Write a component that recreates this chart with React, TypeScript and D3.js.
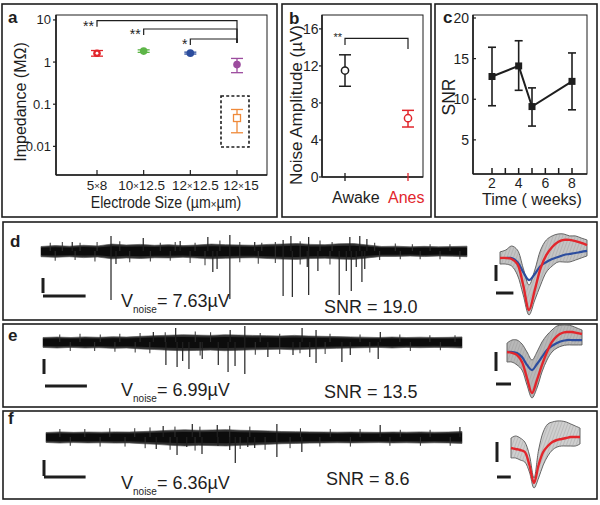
import React from "react";
import * as d3 from "d3";

const FONT = "'Liberation Sans', Arial, Helvetica, sans-serif";

// ---------- Panel a: impedance ----------
const sizeCategories = ["5×8", "10×12.5", "12×12.5", "12×15"];
const impedanceMean = [1.62, 1.82, 1.63, 0.87];
const impedanceLow = [1.38, 1.7, 1.55, 0.56];
const impedanceHigh = [1.88, 1.95, 1.72, 1.22];
const coatedMean = 0.047;
const coatedLow = 0.021;
const coatedHigh = 0.075;
const impedanceTicks = [10, 1, 0.1, 0.01];
const impedanceTickLabels = ["10", "1", "0.1", "0.01"];
const sigFrom = [0, 1, 2];
const sigTo = [3, 3, 3];
const sigLabels = ["**", "**", "*"];

// ---------- Panel b: noise ----------
const states = ["Awake", "Anes"];
const noiseMean = [11.5, 6.35];
const noiseLow = [9.8, 5.4];
const noiseHigh = [13.2, 7.2];
const noiseTicks = [0, 4, 8, 12, 16];

// ---------- Panel c: SNR over time ----------
const weeks = [2, 4, 5, 8];
const snrMean = [12.8, 14.1, 9.1, 12.2];
const snrLow = [9.2, 11.1, 6.7, 8.7];
const snrHigh = [16.4, 17.2, 11.4, 15.7];
const snrTicks = [5, 10, 15, 20];
const weekTicks = [2, 4, 6, 8];
const weekMinorTicks = [2, 3, 4, 5, 6, 7, 8];

// ---------- Panels d,e,f: raw traces (time s, amplitude µV) ----------
const envTimes = [0, 2, 4, 6, 8, 10, 12, 14, 16, 18, 20, 22, 24, 26, 28, 30, 32, 34, 36, 38, 40, 42, 44, 46, 48, 50, 52, 54, 56, 58, 60];

const dUpper = [30, 36, 32, 38, 34, 46, 40, 44, 38, 42, 36, 40, 46, 42, 40, 38, 44, 46, 50, 44, 42, 48, 50, 40, 30, 32, 28, 31, 28, 30, 32];
const dLower = [-38, -42, -38, -44, -40, -52, -46, -50, -45, -46, -42, -47, -52, -48, -46, -45, -50, -54, -56, -50, -48, -54, -56, -46, -36, -36, -34, -37, -34, -35, -38];
const dSpikeT = [9.86, 10.56, 24.2, 24.8, 26.6, 34.1, 35.4, 37.5, 37.7, 39.0, 42.0, 43.0, 43.7, 44.4, 45.2, 45.6, 9.86, 14.4, 23.5, 26.6, 34.1, 35.2, 37.7, 43.5, 44.9, 45.9, 4.4, 19.6, 30.1];
const dSpikeA = [-327, -87, -140, -120, -320, -300, -307, -107, -293, -133, -293, -133, -267, -107, -207, -120, 100, 87, 93, 107, 73, 100, 93, 93, 100, 80, 60, 67, 60];
const dHairT = [1.3, 3.0, 5.5, 7.9, 11.1, 16.8, 18.9, 21.7, 25.2, 28.0, 31.1, 33.0, 36.5, 39.3, 41.0, 47.0, 49.9, 52.3, 54.8, 57.6, 2.0, 4.8, 7.6, 12.5, 15.4, 18.2, 21.0, 23.1, 28.0, 30.6, 33.0, 36.5, 40.7, 47.7, 50.6, 53.4, 56.2, 59.0];
const dHairA = [55, 60, 55, 60, 65, 55, 60, 55, 70, 60, 55, 60, 65, 70, 60, 55, 50, 45, 45, 45, -65, -60, -70, -75, -70, -65, -80, -95, -75, -85, -80, -90, -90, -60, -55, -55, -55, -55];

const eUpper = [30, 33, 30, 34, 31, 35, 33, 38, 42, 45, 48, 46, 44, 48, 46, 44, 42, 40, 44, 40, 38, 36, 34, 32, 30, 33, 30, 32, 30, 31, 34];
const eLower = [-36, -40, -36, -40, -38, -42, -40, -46, -50, -55, -58, -56, -54, -58, -55, -52, -50, -48, -52, -48, -45, -42, -40, -38, -36, -40, -36, -38, -36, -37, -40];
const eSpikeT = [17.6, 19.2, 20.0, 20.9, 22.8, 25.1, 26.5, 27.5, 28.9, 32.2, 35.8, 38.2, 39.1, 42.8, 44.0, 48.0, 15.8, 19.0, 26.8, 28.9, 37.1, 39.1, 48.3];
const eSpikeA = [-153, -167, -127, -180, -113, -153, -200, -160, -213, -100, -87, -100, -140, -133, -87, -113, 67, 93, 80, 107, 93, 80, 67];
const eHairT = [2.4, 5.3, 8.2, 11.0, 13.9, 17.5, 21.8, 24.0, 31.1, 33.9, 41.1, 45.4, 51.1, 55.4, 59.0, 3.9, 7.4, 10.3, 13.2, 15.3, 22.5, 30.4, 33.9, 36.8, 40.4, 46.8, 52.6, 56.9];
const eHairA = [50, 55, 50, 55, 60, 65, 70, 65, 60, 55, 55, 50, 50, 45, 45, -60, -60, -65, -70, -75, -90, -85, -80, -75, -80, -70, -60, -55];

const fUpper = [28, 32, 29, 31, 30, 32, 31, 34, 38, 42, 45, 42, 44, 46, 42, 40, 38, 34, 33, 32, 31, 30, 31, 30, 29, 31, 30, 32, 30, 31, 34];
const fLower = [-34, -38, -35, -37, -36, -38, -37, -42, -46, -52, -56, -52, -54, -56, -52, -50, -46, -42, -40, -38, -37, -36, -37, -36, -35, -37, -36, -38, -36, -37, -40];
const fSpikeT = [15.9, 18.9, 20.3, 22.5, 24.8, 26.5, 27.3, 29.1, 30.1, 33.3, 36.9, 16.9, 21.1, 24.7, 33.3, 48.2, 59.7];
const fSpikeA = [-75, -113, -63, -106, -56, -81, -163, -63, -69, -125, -94, 69, 81, 75, 81, 75, 62];
const fHairT = [2.0, 5.6, 9.2, 12.8, 15.0, 18.6, 22.2, 26.5, 29.4, 36.7, 41.0, 45.3, 51.1, 55.4, 3.5, 7.8, 11.4, 14.3, 17.9, 21.5, 28.0, 31.6, 35.2, 39.5, 43.9, 49.6, 54.0, 58.3];
const fHairA = [50, 50, 55, 55, 60, 65, 65, 70, 65, 55, 50, 50, 45, 45, -55, -60, -60, -70, -80, -85, -75, -80, -70, -60, -60, -55, -55, -55];

const noiseLabels = ["7.63µV", "6.99µV", "6.36µV"];
const snrLabels = ["19.0", "13.5", "8.6"];

// ---------- Spike waveforms (ms, µV) ----------
const waveMs = [0, 0.1, 0.2, 0.3, 0.4, 0.5, 0.6, 0.7, 0.8, 0.9, 1.0, 1.1, 1.2, 1.3, 1.4, 1.5];
const dRed = [0, 0, -6, -38, -169, -325, -200, -63, 19, 69, 100, 113, 113, 106, 94, 81];
const dBlue = [0, 0, 0, -25, -88, -138, -100, -50, -25, -6, 6, 19, 25, 31, 38, 44];
const dGrayHi = [38, 50, 75, 50, -63, -169, -75, 50, 113, 138, 150, 150, 138, 138, 125, 113];
const dGrayLo = [-38, -38, -50, -106, -231, -356, -263, -169, -88, -50, -25, -25, -25, -13, 0, 13];
const eRed = [0, -5, -16, -53, -137, -216, -147, -68, 0, 53, 84, 100, 105, 105, 100, 95];
const eBlue = [0, 0, -5, -26, -68, -95, -63, -26, 11, 32, 47, 58, 63, 63, 63, 63];
const eGrayHi = [47, 63, 63, 42, 0, -42, 0, 53, 89, 116, 137, 142, 142, 137, 126, 116];
const eGrayLo = [-53, -53, -68, -95, -174, -242, -189, -105, -42, 0, 21, 32, 37, 37, 37, 37];
const fRed = [10, 5, 0, -10, -75, -165, -75, -10, 20, 40, 50, 55, 60, 65, 65, 65];
const fGrayHi = [60, 70, 60, 40, -25, -140, 0, 90, 130, 140, 145, 145, 140, 130, 120, 110];
const fGrayLo = [-40, -40, -50, -60, -110, -190, -140, -75, -30, 0, 15, 20, 20, 20, 20, 30];

const C_RED = "#e2262c";
const C_GREEN = "#5db547";
const C_BLUE = "#2c4d9e";
const C_PURPLE = "#9c4c9e";
const C_ORANGE = "#ef8a3a";
const impColors = [C_RED, C_GREEN, C_BLUE, C_PURPLE];
const INK = "#1e1e1e";

function Box({ x, y, w, h }: any) {
  return <rect x={x} y={y} width={w} height={h} fill="none" stroke={INK} strokeWidth={1.6} />;
}

const sizeLabelShift = [0, -2, 5, 4];

function SizeLabel({ label, x, y }: any) {
  const parts = label.split("×");
  return (
    <text x={x} y={y} textAnchor="middle" fontSize={13.5} fill={INK}>
      {parts[0]}
      <tspan fontSize={9.5} dy={-1}>×</tspan>
      <tspan dy={1}>{parts[1]}</tspan>
    </text>
  );
}

function PanelA() {
  const x = d3.scalePoint<string>().domain(sizeCategories).range([97, 237]);
  const y = d3.scaleLog().domain([0.00209, 13.09]).range([175, 15]);
  const bracketY = [20.7, 29, 39];
  const rightY = 43;
  const xc = x(sizeCategories[3])!;
  return (
    <g>
      <Box x={2} y={4} w={275} h={213} />
      <text x={8} y={23} fontSize={17} fontWeight="bold" fill={INK}>a</text>
      <rect x={56} y={15} width={211} height={160} fill="none" stroke={INK} strokeWidth={1} />
      <line x1={56} x2={56} y1={15} y2={175} stroke={INK} strokeWidth={1.6} />
      <line x1={56} x2={267} y1={175} y2={175} stroke={INK} strokeWidth={1.6} />
      {impedanceTicks.map((t, i) => (
        <g key={i}>
          <line x1={53} x2={56} y1={y(t)} y2={y(t)} stroke={INK} strokeWidth={1.2} />
          <text x={51} y={y(t) + 4.5} textAnchor="end" fontSize={13} fill={INK}>{impedanceTickLabels[i]}</text>
        </g>
      ))}
      {sizeCategories.map((c, i) => (
        <g key={c}>
          <line x1={x(c)} x2={x(c)} y1={175} y2={170} stroke={INK} strokeWidth={1.2} />
          <SizeLabel label={c} x={x(c)! + sizeLabelShift[i]} y={190} />
        </g>
      ))}
      <g transform="translate(166,208) scale(0.86,1)">
        <text x={0} y={0} textAnchor="middle" fontSize={16.5} fill={INK}>
          Electrode Size (µm<tspan fontSize={11.5}>×</tspan>µm)
        </text>
      </g>
      <text transform="translate(25.5,102) rotate(-90)" textAnchor="middle" fontSize={16} fill={INK}>
        Impedance (MΩ)
      </text>
      {sigFrom.map((f, i) => {
        const xl = x(sizeCategories[f])!;
        const xr = x(sizeCategories[sigTo[i]])!;
        const by = bracketY[i];
        return (
          <g key={i}>
            <path d={`M${xl},${by + 6}V${by}H${xr}V${rightY}`} fill="none" stroke={INK} strokeWidth={1.2} />
            <text x={xl - 3} y={by + 10} textAnchor="end" fontSize={14} fill={INK}>{sigLabels[i]}</text>
          </g>
        );
      })}
      {sizeCategories.map((c, i) => {
        const cx = x(c)!;
        const col = impColors[i];
        return (
          <g key={c}>
            <line x1={cx} x2={cx} y1={y(impedanceLow[i])} y2={y(impedanceHigh[i])} stroke={col} strokeWidth={1.3} />
            <line x1={cx - 6} x2={cx + 6} y1={y(impedanceLow[i])} y2={y(impedanceLow[i])} stroke={col} strokeWidth={1.3} />
            <line x1={cx - 6} x2={cx + 6} y1={y(impedanceHigh[i])} y2={y(impedanceHigh[i])} stroke={col} strokeWidth={1.3} />
            <circle cx={cx} cy={y(impedanceMean[i])} r={3.8} fill={col} />
            {i === 0 && <circle cx={cx} cy={y(impedanceMean[i])} r={1.4} fill="#fff" />}
          </g>
        );
      })}
      <g>
        <line x1={xc} x2={xc} y1={y(coatedLow)} y2={y(coatedHigh)} stroke={C_ORANGE} strokeWidth={1.3} />
        <line x1={xc - 6} x2={xc + 6} y1={y(coatedLow)} y2={y(coatedLow)} stroke={C_ORANGE} strokeWidth={1.3} />
        <line x1={xc - 6} x2={xc + 6} y1={y(coatedHigh)} y2={y(coatedHigh)} stroke={C_ORANGE} strokeWidth={1.3} />
        <rect x={xc - 3.5} y={y(coatedMean) - 3.5} width={7} height={7} fill="#fff" stroke={C_ORANGE} strokeWidth={1.3} />
        <rect x={221} y={96} width={28} height={51} fill="none" stroke={INK} strokeWidth={1.6} strokeDasharray="3,2.2" />
      </g>
    </g>
  );
}

function PanelB() {
  const x = d3.scalePoint<string>().domain(states).range([345, 408]);
  const y = d3.scaleLinear().domain([0, 17.5]).range([177, 15]);
  const cols = [INK, C_RED];
  const xa = x("Awake")!;
  const xn = x("Anes")!;
  return (
    <g>
      <Box x={282} y={4} w={149} h={213} />
      <text x={289} y={24} fontSize={17} fontWeight="bold" fill={INK}>b</text>
      <rect x={322} y={15} width={101} height={162} fill="none" stroke={INK} strokeWidth={1} />
      <line x1={322} x2={322} y1={15} y2={177} stroke={INK} strokeWidth={1.6} />
      <line x1={322} x2={423} y1={177} y2={177} stroke={INK} strokeWidth={1.6} />
      {noiseTicks.map((t) => (
        <g key={t}>
          <line x1={319} x2={322} y1={y(t)} y2={y(t)} stroke={INK} strokeWidth={1.2} />
          <text x={318.5} y={y(t) + 5} textAnchor="end" fontSize={14} fill={INK}>{t}</text>
        </g>
      ))}
      {states.map((s, i) => (
        <line key={s} x1={x(s)} x2={x(s)} y1={173} y2={181} stroke={cols[i]} strokeWidth={1.3} />
      ))}
      <text x={332} y={203} fontSize={16} fill={INK}>Awake</text>
      <text x={388} y={203} fontSize={16} fill={C_RED}>Anes</text>
      <text transform="translate(302,105) rotate(-90)" textAnchor="middle" fontSize={17} fill={INK}>
        Noise Amplitude (µV)
      </text>
      <path d={`M${xa},45V38.3H${xn}V49`} fill="none" stroke={INK} strokeWidth={1.2} />
      <text x={342} y={41} textAnchor="end" fontSize={11} fill={INK}>**</text>
      {states.map((s, i) => {
        const cx = x(s)!;
        const col = cols[i];
        return (
          <g key={s}>
            <line x1={cx} x2={cx} y1={y(noiseLow[i])} y2={y(noiseHigh[i])} stroke={col} strokeWidth={1.5} />
            <line x1={cx - 6} x2={cx + 6} y1={y(noiseLow[i])} y2={y(noiseLow[i])} stroke={col} strokeWidth={1.5} />
            <line x1={cx - 6} x2={cx + 6} y1={y(noiseHigh[i])} y2={y(noiseHigh[i])} stroke={col} strokeWidth={1.5} />
            <circle cx={cx} cy={y(noiseMean[i])} r={3.6} fill="#fff" stroke={col} strokeWidth={1.5} />
          </g>
        );
      })}
    </g>
  );
}

function PanelC() {
  const x = d3.scaleLinear().domain([0.575, 9.125]).range([473, 587]);
  const y = d3.scaleLinear().domain([0.8, 20.37]).range([174, 15]);
  const line = d3.line<number>().x((_, i) => x(weeks[i])).y((v) => y(v));
  return (
    <g>
      <Box x={435} y={4} w={162} h={213} />
      <text x={443} y={23} fontSize={17} fontWeight="bold" fill={INK}>c</text>
      <rect x={473} y={15} width={114} height={159} fill="none" stroke={INK} strokeWidth={1} />
      <line x1={473} x2={473} y1={15} y2={174} stroke={INK} strokeWidth={1.6} />
      <line x1={473} x2={587} y1={174} y2={174} stroke={INK} strokeWidth={1.6} />
      {snrTicks.map((t) => (
        <g key={t}>
          <line x1={473} x2={476} y1={y(t)} y2={y(t)} stroke={INK} strokeWidth={1.2} />
          <text x={469} y={y(t) + 5} textAnchor="end" fontSize={14} fill={INK}>{t}</text>
        </g>
      ))}
      {weekMinorTicks.map((t) => (
        <line key={t} x1={x(t)} x2={x(t)} y1={174} y2={168} stroke={INK} strokeWidth={1.5} />
      ))}
      {weekTicks.map((t) => (
        <text key={t} x={x(t)} y={188} textAnchor="middle" fontSize={14} fill={INK}>{t}</text>
      ))}
      <text x={532} y={205} textAnchor="middle" fontSize={16} fill={INK}>Time ( weeks)</text>
      <text transform="translate(454.5,97) rotate(-90)" textAnchor="middle" fontSize={17.5} fill={INK}>SNR</text>
      {weeks.map((w, i) => (
        <g key={w}>
          <line x1={x(w)} x2={x(w)} y1={y(snrLow[i])} y2={y(snrHigh[i])} stroke={INK} strokeWidth={1.6} />
          <line x1={x(w) - 4} x2={x(w) + 4} y1={y(snrLow[i])} y2={y(snrLow[i])} stroke={INK} strokeWidth={1.6} />
          <line x1={x(w) - 4} x2={x(w) + 4} y1={y(snrHigh[i])} y2={y(snrHigh[i])} stroke={INK} strokeWidth={1.6} />
        </g>
      ))}
      <path d={line(snrMean)!} fill="none" stroke={INK} strokeWidth={2} />
      {weeks.map((w, i) => (
        <rect key={w} x={x(w) - 3.5} y={y(snrMean[i]) - 3.5} width={7} height={7} fill={INK} />
      ))}
    </g>
  );
}

function Trace({ L, upper, lower, spikeT, spikeA, hairT, hairA }: any) {
  const x = d3.scaleLinear().domain([0, 60]).range([L.x0, L.x1]);
  const y = d3.scaleLinear().domain([0, 100]).range([L.y0, L.y0 - 100 * L.k]);
  const area = d3
    .area<number>()
    .x((_, i) => x(envTimes[i]))
    .y0((_, i) => y(lower[i]))
    .y1((v) => y(v));
  const core = d3
    .area<number>()
    .x((_, i) => x(envTimes[i]))
    .y0((_, i) => y(lower[i] * 0.7))
    .y1((v) => y(v * 0.7));
  return (
    <g>
      <path d={area(upper)!} fill="#2e2e2e" stroke="#555" strokeWidth={0.7} />
      <path d={core(upper)!} fill="#0c0c0c" />
      {hairT.map((t: number, i: number) => (
        <line key={"h" + i} x1={x(t)} x2={x(t)} y1={y(0)} y2={y(hairA[i])} stroke="#333" strokeWidth={1} />
      ))}
      {spikeT.map((t: number, i: number) => (
        <line key={i} x1={x(t)} x2={x(t)} y1={y(0)} y2={y(spikeA[i])} stroke="#222" strokeWidth={1.2} />
      ))}
      <line x1={L.vbx} x2={L.vbx} y1={L.vby} y2={L.vby + 100 * L.k} stroke={INK} strokeWidth={3} />
      <line x1={L.hbx} x2={L.hbx + x(6) - x(0)} y1={L.hby} y2={L.hby} stroke={INK} strokeWidth={3} />
    </g>
  );
}

function Wave({ W, red, blue, hi, lo }: any) {
  const x = d3.scaleLinear().domain([0, 1.5]).range([W.x0, W.x1]);
  const y = d3.scaleLinear().domain([0, 100]).range([W.y0, W.y0 - 100 * W.k]);
  const line = d3.line<number>().x((_, i) => x(waveMs[i])).y((v) => y(v)).curve(d3.curveCatmullRom);
  const area = d3
    .area<number>()
    .x((_, i) => x(waveMs[i]))
    .y0((_, i) => y(lo[i]))
    .y1((v) => y(v))
    .curve(d3.curveCatmullRom);
  return (
    <g>
      <path d={area(hi)!} fill={W.gray} stroke="#555" strokeWidth={0.9} />
      <path d={area(hi)!} fill="url(#waveHatch)" />
      {blue && <path d={line(blue)!} fill="none" stroke={C_BLUE} strokeWidth={2.2} />}
      <path d={line(red)!} fill="none" stroke={C_RED} strokeWidth={2.4} />
      <line x1={W.sbx} x2={W.sbx} y1={W.sby} y2={W.sby + 100 * W.k} stroke={INK} strokeWidth={3} />
      <line x1={W.sbx} x2={W.sbx + x(0.3) - x(0)} y1={W.shy} y2={W.shy} stroke={INK} strokeWidth={3} />
    </g>
  );
}

function VNoise({ x, y, value }: any) {
  return (
    <text x={x} y={y} fontSize={18} fill={INK}>
      V<tspan fontSize={10} dy={6}>noise</tspan>
      <tspan dy={-6}>= {value}</tspan>
    </text>
  );
}

const traceLayouts = [
  { box: [3, 222, 594, 98], letter: [10, 247], x0: 41, x1: 467, y0: 251, k: 0.15, vbx: 43, vby: 278, hbx: 43, hby: 296, vn: [121, 307], snr: [324, 313] },
  { box: [3, 324, 594, 83], letter: [8, 341], x0: 43, x1: 462, y0: 342, k: 0.15, vbx: 44, vby: 359, hbx: 45, hby: 386, vn: [121, 396], snr: [324, 398] },
  { box: [3, 411, 594, 88], letter: [8, 424], x0: 46, x1: 462, y0: 437, k: 0.16, vbx: 44, vby: 460, hbx: 44, hby: 477, vn: [121, 489], snr: [326, 485] },
];
const waveLayouts = [
  { x0: 500, x1: 587, y0: 258, k: 0.16, sbx: 496, sby: 265, shy: 293, gray: "#c4c4c4" },
  { x0: 507, x1: 582, y0: 352, k: 0.19, sbx: 496, sby: 352, shy: 384, gray: "#b8b8b8" },
  { x0: 511, x1: 580, y0: 450, k: 0.2, sbx: 497, sby: 442, shy: 477, gray: "#cfcfcf" },
];
const panelLetters = ["d", "e", "f"];
const traceUppers = [dUpper, eUpper, fUpper];
const traceLowers = [dLower, eLower, fLower];
const traceSpikeT = [dSpikeT, eSpikeT, fSpikeT];
const traceSpikeA = [dSpikeA, eSpikeA, fSpikeA];
const traceHairT = [dHairT, eHairT, fHairT];
const traceHairA = [dHairA, eHairA, fHairA];
const waveReds = [dRed, eRed, fRed];
const waveBlues = [dBlue, eBlue, null];
const waveHis = [dGrayHi, eGrayHi, fGrayHi];
const waveLos = [dGrayLo, eGrayLo, fGrayLo];

export default function App() {
  return (
    <svg
      width={600}
      height={505}
      viewBox="0 0 600 505"
      style={{ position: "absolute", left: 0, top: 0, background: "#fff" }}
      fontFamily={FONT}
    >
      <defs>
        <pattern id="waveHatch" width={3} height={3} patternUnits="userSpaceOnUse" patternTransform="rotate(20)">
          <rect width={0.6} height={3} fill="#8a8a8a" opacity={0.5} />
        </pattern>
      </defs>
      <rect width={600} height={505} fill="#fff" />
      <PanelA />
      <PanelB />
      <PanelC />
      {traceLayouts.map((L, i) => (
        <g key={i}>
          <Box x={L.box[0]} y={L.box[1]} w={L.box[2]} h={L.box[3]} />
          <text x={L.letter[0]} y={L.letter[1]} fontSize={17} fontWeight="bold" fill={INK}>{panelLetters[i]}</text>
          <Trace
            L={L}
            upper={traceUppers[i]}
            lower={traceLowers[i]}
            spikeT={traceSpikeT[i]}
            spikeA={traceSpikeA[i]}
            hairT={traceHairT[i]}
            hairA={traceHairA[i]}
          />
          <Wave W={waveLayouts[i]} red={waveReds[i]} blue={waveBlues[i]} hi={waveHis[i]} lo={waveLos[i]} />
          <VNoise x={L.vn[0]} y={L.vn[1]} value={noiseLabels[i]} />
          <text x={L.snr[0]} y={L.snr[1]} fontSize={18} fill={INK}>SNR = {snrLabels[i]}</text>
        </g>
      ))}
    </svg>
  );
}
